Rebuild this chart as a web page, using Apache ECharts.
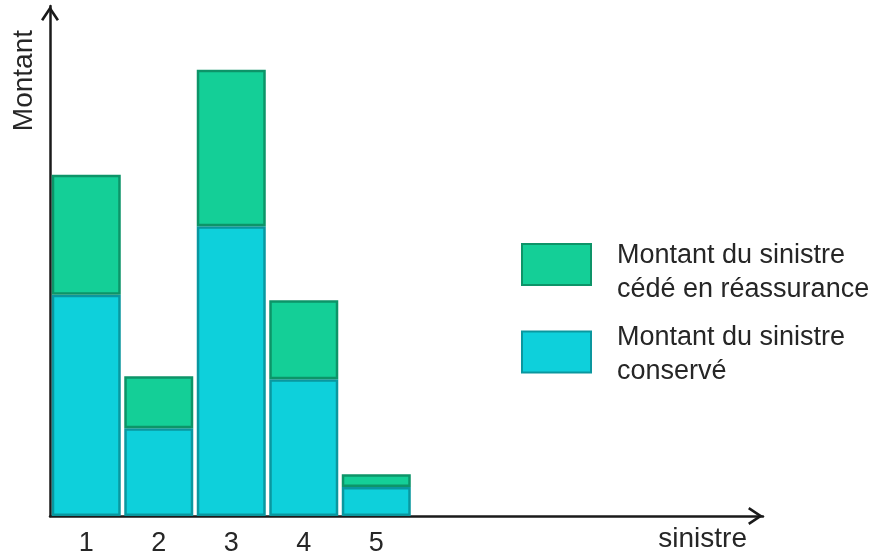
<!DOCTYPE html>
<html>
<head>
<meta charset="utf-8">
<script src="https://cdn.jsdelivr.net/npm/echarts@6/dist/echarts.min.js"></script>
<style>
  html, body { margin: 0; padding: 0; background: #ffffff; }
  #chart { width: 886px; height: 557px; }
</style>
</head>
<body>
<div id="chart"></div>
<script>
// Sinistres 1 à 5 : part conservée et part cédée en réassurance
const categories = [1, 2, 3, 4, 5];
const tickLabels = ['1', '2', '3', '4', '5'];
const conserve = [43.4, 17.2, 56.8, 26.8, 5.7];
const cede = [23.5, 10.2, 30.7, 15.5, 2.5];
const seriesNames = [
  'Montant du sinistre\ncédé en réassurance',
  'Montant du sinistre\nconservé'
];
const axisNames = { x: 'sinistre', y: 'Montant' };

const FONT = "'Liberation Sans', Arial, sans-serif";
const TEXT = '#262626';
const AXIS = '#1a1a1a';
// open chevron used as the arrow head of both axes
const CHEVRON = 'path://M9,0 L18,13.5 L15.84,14.94 L9,4.7 L2.16,14.94 L0,13.5 Z';

// rows are [montant, sinistre] so that the stack runs on the vertical axis
const rows = values => categories.map((c, i) => [values[i], c]);

// one legend block per entry; a thin spacer line on top lowers the text
// a little relative to its swatch
function legendBlock(name, top, spacer) {
  return {
    orient: 'vertical',
    left: 521,
    top: top,
    padding: 0,
    itemWidth: 69,
    itemHeight: 41,
    icon: 'rect',
    data: [name],
    formatter: n => '{s| }\n' + n.split('\n').map(l => '{t|' + l + '}').join('\n'),
    textStyle: {
      fontFamily: FONT,
      fontSize: 27,
      color: TEXT,
      padding: [0, 0, 0, 21],
      rich: {
        s: { fontSize: 4, lineHeight: spacer },
        t: { fontFamily: FONT, fontSize: 27, lineHeight: 34, color: TEXT }
      }
    }
  };
}

const axisLine = {
  show: true,
  symbol: ['none', CHEVRON],
  symbolSize: [18, 15],
  symbolOffset: [0, -7.5],
  lineStyle: { color: AXIS, width: 2.5 }
};

const chart = echarts.init(document.getElementById('chart'), null, { renderer: 'canvas' });

chart.setOption({
  animation: false,
  backgroundColor: '#ffffff',
  grid: { left: 50, right: 123, top: 6, bottom: 40, containLabel: false },
  legend: [
    legendBlock(seriesNames[0], 228.5, 17),
    legendBlock(seriesNames[1], 316, 5)
  ],
  xAxis: {
    type: 'value',
    min: 0.5,
    max: 10.334,
    name: axisNames.x,
    nameLocation: 'end',
    nameGap: -16,
    nameTextStyle: {
      fontFamily: FONT, fontSize: 28, color: TEXT,
      align: 'right', verticalAlign: 'top', padding: [9, 0, 0, 0]
    },
    splitLine: { show: false },
    axisTick: { show: false },
    axisLine: axisLine,
    axisLabel: {
      customValues: categories,
      formatter: v => tickLabels[categories.indexOf(v)] || '',
      fontFamily: FONT, fontSize: 27, color: TEXT, margin: 14
    }
  },
  yAxis: {
    type: 'value',
    min: 0,
    max: 100,
    name: axisNames.y,
    nameLocation: 'end',
    nameGap: -24,
    nameRotate: 90,
    nameTextStyle: {
      fontFamily: FONT, fontSize: 28, color: TEXT,
      align: 'right', verticalAlign: 'bottom', padding: [0, 0, 12, 0]
    },
    splitLine: { show: false },
    axisTick: { show: false },
    axisLabel: { show: false },
    axisLine: axisLine
  },
  series: [
    {
      name: seriesNames[1],
      type: 'bar',
      stack: 'sinistre',
      barWidth: 69,
      encode: { x: 1, y: 0 },
      data: rows(conserve),
      itemStyle: { color: '#0ed0db', borderColor: '#0a979f', borderWidth: 2.5 }
    },
    {
      name: seriesNames[0],
      type: 'bar',
      stack: 'sinistre',
      barWidth: 69,
      encode: { x: 1, y: 0 },
      data: rows(cede),
      itemStyle: { color: '#14cf97', borderColor: '#0d9468', borderWidth: 2.5 }
    }
  ]
});
</script>
</body>
</html>
